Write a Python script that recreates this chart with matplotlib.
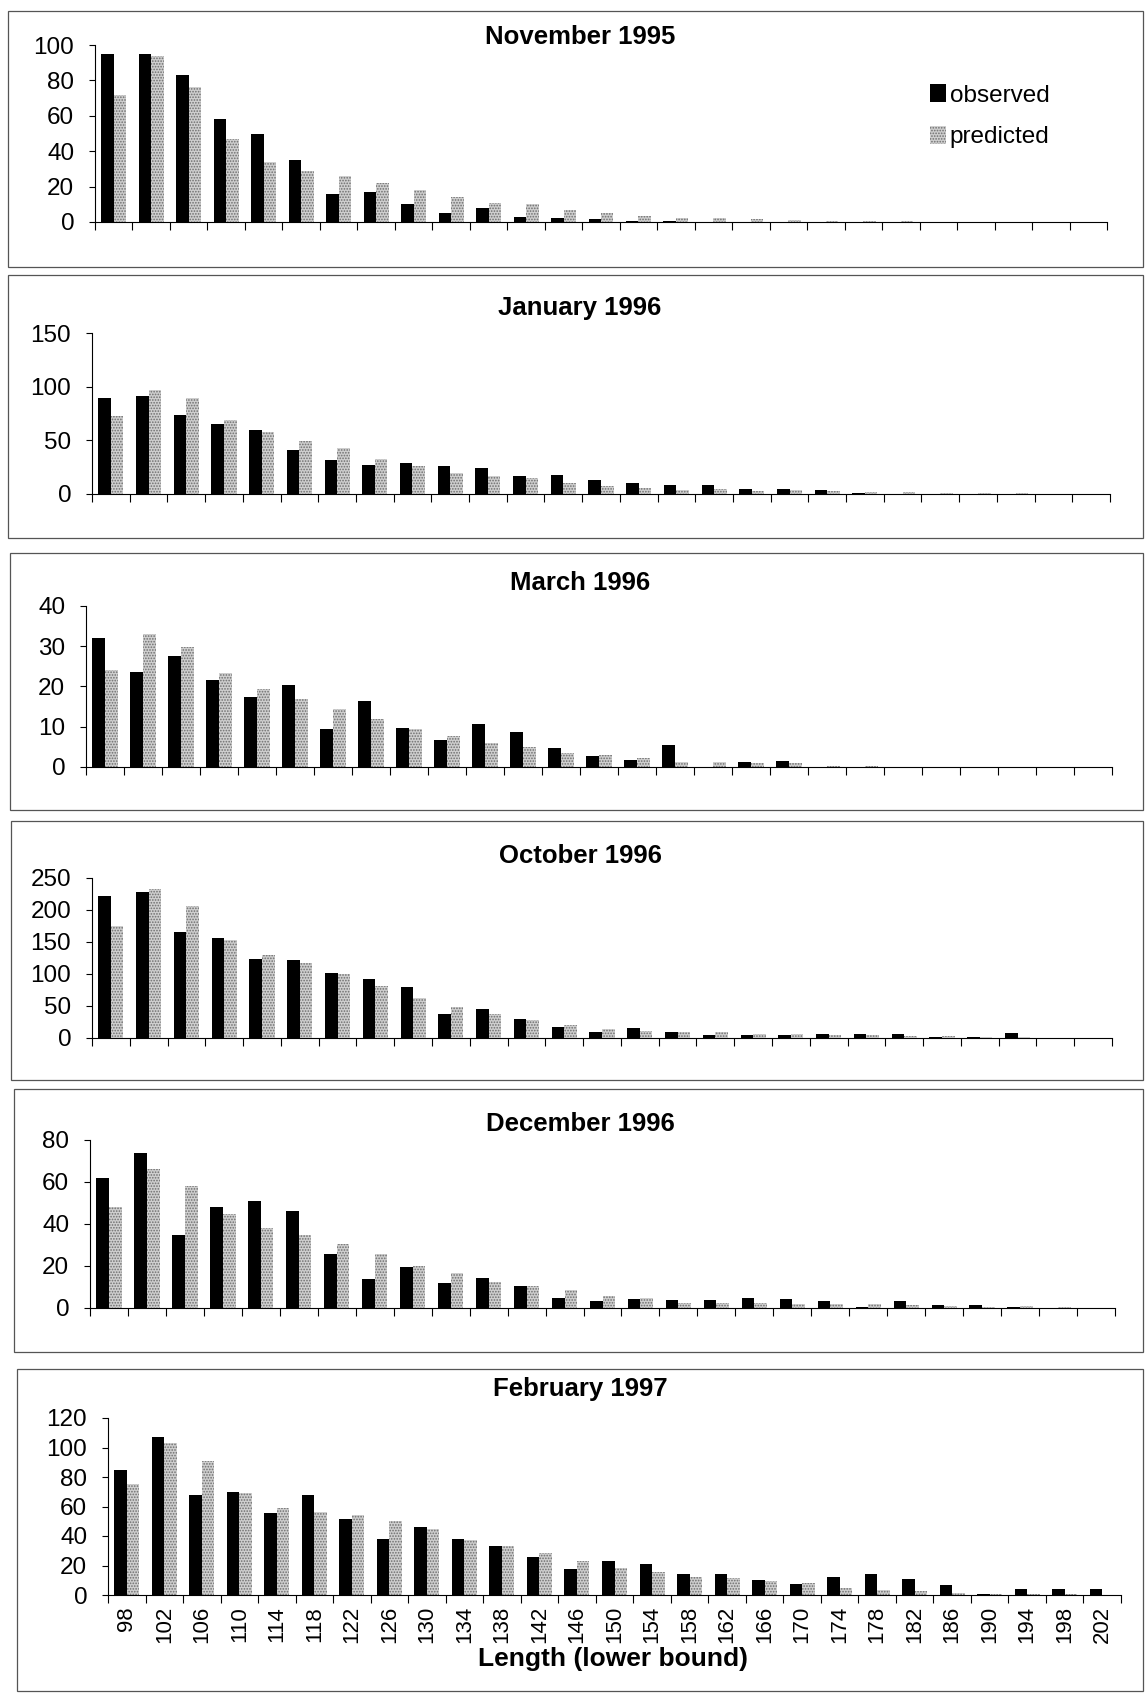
import numpy as np
import matplotlib
matplotlib.use("Agg")
import matplotlib.pyplot as plt
from matplotlib.patches import Rectangle, Patch

plt.rcParams['font.family'] = ['Liberation Sans', 'DejaVu Sans']
plt.rcParams['hatch.linewidth'] = 0.8

lengths = ['98', '102', '106', '110', '114', '118', '122', '126', '130', '134',
           '138', '142', '146', '150', '154', '158', '162', '166', '170', '174',
           '178', '182', '186', '190', '194', '198', '202']

nov95_obs = [95, 95, 83, 58, 50, 35, 16, 17, 10, 5, 8, 3, 2, 1.5, 0.5, 0.3, 0, 0, 0, 0, 0, 0, 0, 0, 0, 0, 0]
nov95_pred = [72, 94, 76, 47, 34, 29, 26, 22, 18, 14, 11, 10, 7, 5, 3.5, 2.5, 2, 1.5, 1, 0.5, 0.5, 0.3, 0.2, 0.2, 0.1, 0.1, 0.1]

jan96_obs = [89, 91, 74, 65, 60, 41, 32, 27, 29, 26, 24, 17, 18, 13, 10.5, 8, 8, 5, 5, 4, 0.5, 0.3, 0.2, 0, 0, 0, 0]
jan96_pred = [73, 97, 89, 69, 58, 49, 43, 33, 26, 20, 17, 14.5, 10, 7, 6, 4, 4.5, 3, 3.5, 3, 2, 1.5, 1, 0.5, 0.5, 0.3, 0.2]

mar96_obs = [32, 23.5, 27.5, 21.5, 17.3, 20.3, 9.5, 16.5, 9.6, 6.6, 10.6, 8.8, 4.8, 2.8, 1.8, 5.5, 0, 1.3, 1.4, 0, 0, 0, 0, 0, 0, 0, 0]
mar96_pred = [24, 33, 29.7, 23.3, 19.3, 17, 14.3, 12, 9.4, 7.7, 6, 5, 3.5, 3, 2.2, 1.3, 1.2, 1, 1, 0.3, 0.2, 0.1, 0.1, 0.1, 0, 0, 0]

oct96_obs = [222, 228, 166, 157, 124, 122, 101, 92, 80, 38, 45, 30, 17, 9, 15, 10, 4, 4, 5, 6, 6.5, 6, 1, 2, 7.5, 0.5, 0]
oct96_pred = [175, 233, 206, 153, 129, 117, 100, 81, 63, 49, 38, 28, 20, 14, 11.5, 9, 10, 6.5, 6, 5, 4, 3, 2.5, 1.5, 1, 0.5, 0.3]

dec96_obs = [62, 74, 35, 48, 51, 46, 25.5, 13.8, 19.4, 12, 14.3, 10.3, 4.6, 3.5, 4.5, 4, 3.8, 5, 4.2, 3.2, 0.3, 3.2, 1.2, 1.2, 0.3, 0.2, 0.2]
dec96_pred = [48, 66, 58, 45, 38, 35, 30.5, 25.7, 19.8, 16.5, 12.2, 10.5, 8.5, 5.7, 4.7, 2.5, 2.4, 2.5, 1.9, 2, 2, 1.6, 0.8, 0.5, 1, 0.3, 0.2]

feb97_obs = [85, 107, 67.5, 70, 55.5, 68, 51.5, 38, 46, 38, 33, 26, 17.5, 23, 21, 14, 14, 10.2, 7.3, 12, 14, 11, 6.8, 0.5, 3.8, 3.8, 4.3]
feb97_pred = [75.5, 103, 91, 69, 59, 56, 54, 50, 45, 37.5, 33, 28.6, 23, 18, 15.6, 12.5, 11.8, 9.5, 8.4, 5, 3.5, 2.5, 1.5, 1, 0.7, 0.5, 0.3]

W, H = 1145, 1693
fig = plt.figure(figsize=(W / 100, H / 100), dpi=100)

pred_face = '#cfcfcf'
pred_hatch = '#6e6e6e'

# title, obs, pred, ymax, ystep, axes box (l, r, top, bottom px), frame box, title y
panels = [
    ("November 1995", nov95_obs, nov95_pred, 100, 20, (95, 1107, 45, 222), (8, 1143, 11, 267), 37),
    ("January 1996", jan96_obs, jan96_pred, 150, 50, (92, 1110, 333, 494), (8, 1143, 275, 538), 308),
    ("March 1996", mar96_obs, mar96_pred, 40, 10, (86, 1112, 606, 767), (10, 1143, 553, 810), 583),
    ("October 1996", oct96_obs, oct96_pred, 250, 50, (92, 1112, 878, 1038), (11, 1143, 821, 1080), 856),
    ("December 1996", dec96_obs, dec96_pred, 80, 20, (90, 1115, 1140, 1308), (14, 1143, 1089, 1352), 1124),
    ("February 1997", feb97_obs, feb97_pred, 120, 20, (108, 1121, 1418, 1595), (17, 1143, 1369, 1691), 1389),
]

x = np.arange(len(lengths))
w = 1 / 3.0

for i, (title, obs, pred, ymax, ystep, ab, fb, ty) in enumerate(panels):
    l, r, t, b = ab
    ax = fig.add_axes([l / W, 1 - b / H, (r - l) / W, (b - t) / H])
    ax.bar(x - w / 2, obs, width=w, color='black', linewidth=0)
    ax.bar(x + w / 2, pred, width=w, facecolor=pred_face, hatch='......',
           edgecolor=pred_hatch, linewidth=0)
    ax.set_xlim(-0.5, len(lengths) - 0.5)
    ax.set_ylim(0, ymax)
    ax.set_yticks(np.arange(0, ymax + 1, ystep))
    ax.set_xticks(np.arange(-0.5, len(lengths), 1))
    ax.set_xticklabels([])
    ax.spines['top'].set_visible(False)
    ax.spines['right'].set_visible(False)
    ax.spines['left'].set_linewidth(0.8)
    ax.spines['bottom'].set_linewidth(0.8)
    ax.tick_params(axis='y', direction='out', length=4, width=0.8, pad=11, labelsize=17.5)
    ax.tick_params(axis='x', direction='out', length=6, width=0.8)
    ax.set_facecolor('none')

    fig.text(580 / W, 1 - ty / H, title, ha='center', va='center',
             fontsize=18.5, fontweight='bold')

    x0, x1, y0, y1 = fb
    fig.add_artist(Rectangle((x0 / W, 1 - y1 / H), (x1 - x0) / W, (y1 - y0) / H,
                             transform=fig.transFigure, fill=False,
                             edgecolor='#555555', linewidth=0.9))

    if i == 0:
        handles = [Patch(facecolor='black', linewidth=0),
                   Patch(facecolor=pred_face, hatch='......', edgecolor=pred_hatch, linewidth=0)]
        fig.legend(handles, ['observed', 'predicted'], loc='upper left',
                   bbox_to_anchor=(918 / W, 1 - 72 / H), frameon=False,
                   fontsize=17.5, handlelength=0.65, handleheight=0.75,
                   handletextpad=0.15, labelspacing=0.8, borderpad=0)

    if i == len(panels) - 1:
        ax.set_xticks(x, minor=True)
        ax.set_xticklabels(lengths, minor=True, rotation=90)
        ax.tick_params(axis='x', which='minor', length=0, pad=8, labelsize=16)
        fig.text(613 / W, 1 - 1659 / H, "Length (lower bound)", ha='center',
                 va='center', fontsize=19, fontweight='bold')

fig.savefig("out.png", dpi=100, facecolor='white')
